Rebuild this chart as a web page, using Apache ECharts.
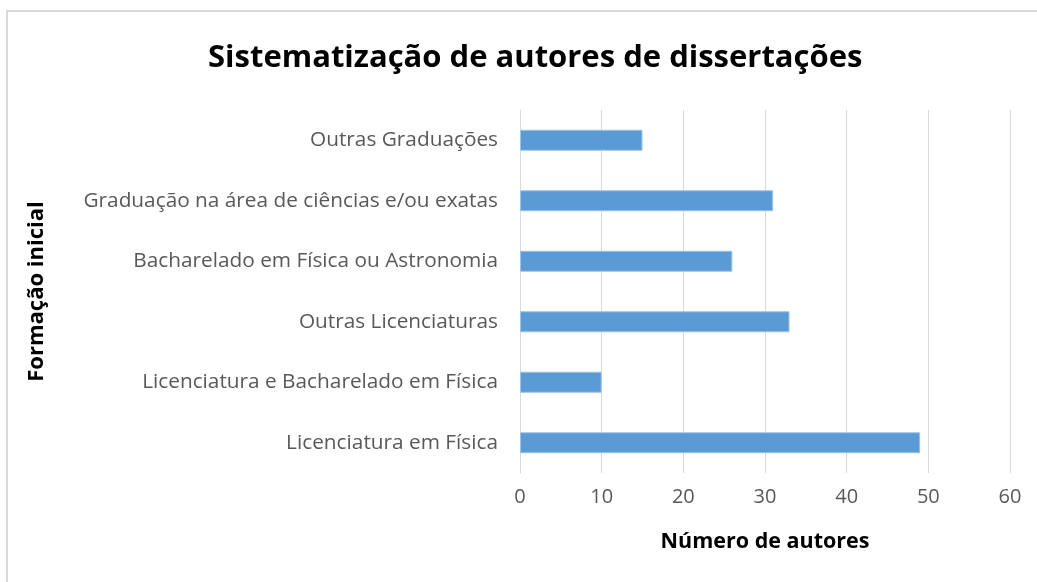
<!DOCTYPE html>
<html>
<head>
<meta charset="utf-8">
<script src="https://cdn.jsdelivr.net/npm/echarts@6/dist/echarts.min.js"></script>
<style>
  html, body { margin: 0; padding: 0; background: #fff; }
  #main { width: 1037px; height: 582px; }
</style>
</head>
<body>
<div id="main"></div>
<script>
// data, bottom category first
const categories = [
  "Licenciatura em Física",
  "Licenciatura e Bacharelado em Física",
  "Outras Licenciaturas",
  "Bacharelado em Física ou Astronomia",
  "Graduação na área de ciências e/ou exatas",
  "Outras Graduações",
];
const autores = [49, 10, 33, 26, 31, 15];
const xTicks = [0, 10, 20, 30, 40, 50, 60];

const font = "'Open Sans', 'Noto Sans', sans-serif";
const chart = echarts.init(document.getElementById("main"));

const option = {
  animation: false,
  title: {
    text: "Sistematização de autores de dissertações",
    left: 203,
    top: 38,
    textStyle: { fontFamily: font, fontSize: 31, fontWeight: "bold", color: "#000" },
  },
  graphic: [
    {
      type: "polyline",
      shape: { points: [[7, 582], [7, 11], [1037, 11]] },
      style: { stroke: "#d9d9d9", lineWidth: 2, fill: null },
    },
  ],
  grid: { left: 520, right: 27, top: 110, bottom: 109 },
  xAxis: {
    type: "value",
    min: xTicks[0],
    max: xTicks[xTicks.length - 1],
    interval: 10,
    name: "Número de autores",
    nameLocation: "middle",
    nameGap: 58,
    nameTextStyle: { fontFamily: font, fontSize: 21.5, fontWeight: "bold", color: "#000" },
    axisLine: { show: false },
    axisTick: { show: false },
    axisLabel: { fontFamily: font, fontSize: 20, color: "#595959", margin: 14 },
    splitLine: { show: true, lineStyle: { color: "#d9d9d9", width: 1 } },
  },
  yAxis: {
    type: "category",
    data: categories,
    name: "Formação inicial",
    nameLocation: "middle",
    nameRotate: 90,
    nameGap: 472,
    nameTextStyle: { fontFamily: font, fontSize: 22, fontWeight: "bold", color: "#000" },
    axisLine: { show: true, lineStyle: { color: "#d9d9d9" } },
    axisTick: { show: false },
    axisLabel: { fontFamily: font, fontSize: 20.8, color: "#595959", margin: 22 },
  },
  series: [
    {
      type: "bar",
      data: autores,
      barWidth: 21,
      itemStyle: { color: "#5b9bd5", borderColor: "#9dc3e6", borderWidth: 1 },
    },
  ],
};
chart.setOption(option);
</script>
</body>
</html>
